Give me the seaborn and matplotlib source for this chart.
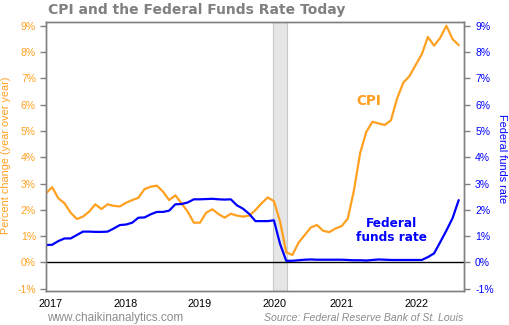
import numpy as np
import pandas as pd
import matplotlib
matplotlib.use("Agg")
import matplotlib.pyplot as plt
import seaborn as sns

# ---- data (monthly, Jan 2017 .. Aug 2022) ----
months = pd.date_range("2017-01-01", "2022-08-01", freq="MS").strftime("%Y-%m").tolist()
cpi = [2.63, 2.86, 2.44, 2.25, 1.89, 1.65, 1.74, 1.93, 2.21, 2.03, 2.21, 2.15,
       2.13, 2.27, 2.37, 2.46, 2.79, 2.88, 2.92, 2.69, 2.37, 2.55, 2.25, 1.93,
       1.51, 1.51, 1.89, 2.02, 1.84, 1.70, 1.85, 1.78, 1.74, 1.78, 1.99, 2.25,
       2.47, 2.33, 1.55, 0.38, 0.28, 0.75, 1.04, 1.33, 1.42, 1.20, 1.15, 1.29,
       1.38, 1.67, 2.75, 4.16, 4.97, 5.35, 5.29, 5.23, 5.41, 6.24, 6.84, 7.09,
       7.51, 7.92, 8.58, 8.25, 8.55, 9.01, 8.50, 8.27]
fed_funds = [0.66, 0.67, 0.81, 0.91, 0.91, 1.04, 1.17, 1.17, 1.16, 1.16, 1.17, 1.29,
             1.42, 1.44, 1.51, 1.70, 1.71, 1.83, 1.92, 1.92, 1.97, 2.21, 2.22, 2.28,
             2.40, 2.40, 2.41, 2.42, 2.40, 2.39, 2.40, 2.17, 2.04, 1.84, 1.57, 1.57,
             1.57, 1.60, 0.70, 0.06, 0.06, 0.08, 0.10, 0.11, 0.10, 0.10, 0.10, 0.10,
             0.10, 0.09, 0.08, 0.08, 0.07, 0.09, 0.11, 0.10, 0.09, 0.09, 0.09, 0.09,
             0.09, 0.09, 0.20, 0.34, 0.77, 1.21, 1.68, 2.37]
year_labels = ["2017", "2018", "2019", "2020", "2021", "2022"]
year_tick_pos = [0.77, 12.9, 25.0, 37.1, 48.0, 60.2]   # month-index positions of labels
recession = (36.9, 39.1)                                # month-index span
y_ticks = list(range(-1, 10))

ORANGE = "#FFA020"
BLUE = "#0000FF"
GRAY = "#808080"

df = pd.DataFrame({"idx": np.arange(len(months)), "month": months,
                   "cpi": cpi, "ffr": fed_funds})

sns.set_style("white")
plt.rcParams["font.family"] = ["Liberation Sans", "DejaVu Sans"]

fig = plt.figure(figsize=(5.10, 3.25), dpi=100)
ax = fig.add_axes([0.0896, 0.1055, 0.8202, 0.8259])

ax.axvspan(recession[0], recession[1], facecolor="#E6E6E6", edgecolor="#C8C8C8", lw=0.8, zorder=0)
ax.axhline(0, color="black", lw=1.0, zorder=1)

sns.lineplot(data=df, x="idx", y="cpi", ax=ax, color=ORANGE, lw=1.6, zorder=3)
sns.lineplot(data=df, x="idx", y="ffr", ax=ax, color=BLUE, lw=1.6, zorder=3)

ax.set_xlim(-0.05, 67.86)
ax.set_ylim(-1.08, 9.14)
ax.set_xticks(year_tick_pos)
ax.set_xticklabels(year_labels, color="black", fontsize=7.8)
ax.set_yticks(y_ticks)
ax.set_yticklabels([f"{t}%" for t in y_ticks], color=ORANGE, fontsize=7.5)
ax.set_xlabel("")
ax.set_ylabel("")
ax.tick_params(axis="both", direction="out", length=4, width=1, color=GRAY, pad=3)
ax.tick_params(axis="x", pad=2)

ax2 = ax.twinx()
ax2.set_ylim(ax.get_ylim())
ax2.set_yticks(y_ticks)
ax2.set_yticklabels([f"{t}%" for t in y_ticks], color=BLUE, fontsize=7.5)
ax2.set_ylabel("")
ax2.tick_params(axis="y", direction="out", length=4, width=1, color=GRAY, pad=4)

for a in (ax, ax2):
    for s in a.spines.values():
        s.set_color(GRAY)
        s.set_linewidth(1.0)
        s.set_visible(True)

fig.text(6 / 510, 1 - 155.6 / 325, "Percent change (year over year)", color=ORANGE,
         fontsize=7.8, rotation=90, ha="center", va="center")
fig.text(501.7 / 510, 1 - 158.4 / 325, "Federal funds rate", color=BLUE,
         fontsize=7.8, rotation=270, ha="center", va="center")

ax.text(52.4, 6.15, "CPI", color=ORANGE, fontsize=9.8, fontweight="bold",
        family="DejaVu Sans", ha="center", va="center")
ax.text(56.1, 1.22, "Federal\nfunds rate", color=BLUE, fontsize=8.7, fontweight="bold",
        family="DejaVu Sans", ha="center", va="center", linespacing=1.1)

fig.text(0.094, 0.968, "CPI and the Federal Funds Rate Today", color=GRAY,
         fontsize=10.0, fontweight="bold", family="DejaVu Sans", ha="left", va="center")
fig.text(0.092, 0.022, "www.chaikinanalytics.com", color="#8C8C8C", fontsize=8.5,
         ha="left", va="center")
fig.text(0.909, 0.022, "Source: Federal Reserve Bank of St. Louis", color="#8C8C8C",
         fontsize=7.6, style="italic", ha="right", va="center")

fig.savefig("out.png", dpi=100)
